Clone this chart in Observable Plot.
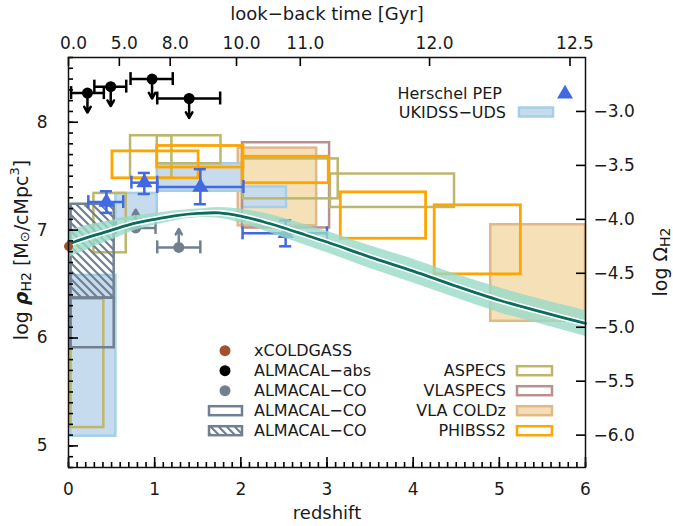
<!DOCTYPE html>
<html><head><meta charset="utf-8">
<script src="https://cdn.jsdelivr.net/npm/d3@7"></script>
<script src="https://cdn.jsdelivr.net/npm/@observablehq/plot@0.6"></script>
<style>body{margin:0;background:#fff}</style>
</head><body><div id="chart"></div>
<script>
// ---------------- data ----------------
const OFFSET = 11.1; // log rho_crit : log Omega = log rho - OFFSET

const xMajor = [0, 1, 2, 3, 4, 5, 6];
const yMajor = [5, 6, 7, 8];
const omegaTicks = [-3.0, -3.5, -4.0, -4.5, -5.0, -5.5, -6.0];
const lbLabels = ["0.0", "5.0", "8.0", "10.0", "11.0", "12.0", "12.5"];
const lbZ = [0.0, 0.59, 1.18, 1.95, 2.69, 4.19, 5.82];

const xcoldgass = [{z: 0.0, y: 6.85, ylo: 6.80, yhi: 6.90}];
const almacalAbs = [
  {z: 0.22, zlo: 0.03, zhi: 0.41, y: 8.27},
  {z: 0.49, zlo: 0.30, zhi: 0.67, y: 8.33},
  {z: 0.97, zlo: 0.72, zhi: 1.21, y: 8.40},
  {z: 1.40, zlo: 1.03, zhi: 1.76, y: 8.22}
];
const almacalCOpts = [
  {z: 0.78, zlo: 0.55, zhi: 1.01, y: 7.02},
  {z: 1.28, zlo: 1.03, zhi: 1.53, y: 6.84}
];
const herschel = [
  {z: 0.44, zlo: 0.23, zhi: 0.635, y: 7.26, ylo: 7.16, yhi: 7.36},
  {z: 0.88, zlo: 0.73, zhi: 1.03, y: 7.44, ylo: 7.335, yhi: 7.53},
  {z: 1.53, zlo: 1.03, zhi: 2.03, y: 7.40, ylo: 7.24, yhi: 7.565},
  {z: 2.52, zlo: 2.02, zhi: 3.00, y: 6.97, ylo: 6.85, yhi: 7.09}
];
const ukidss = [
  {z0: 0.03, z1: 0.55, y0: 5.09, y1: 6.58},
  {z0: 0.55, z1: 1.03, y0: 7.10, y1: 7.34},
  {z0: 1.03, z1: 2.03, y0: 7.36, y1: 7.615},
  {z0: 2.02, z1: 2.53, y0: 7.21, y1: 7.40}
];
const aspecs = [
  {z0: 0.03, z1: 0.41, y0: 5.17, y1: 6.36},
  {z0: 0.295, z1: 0.67, y0: 6.79, y1: 7.34},
  {z0: 0.72, z1: 1.20, y0: 7.48, y1: 7.875},
  {z0: 1.03, z1: 1.77, y0: 7.615, y1: 7.875},
  {z0: 2.03, z1: 3.13, y0: 7.29, y1: 7.66},
  {z0: 3.04, z1: 4.48, y0: 7.21, y1: 7.52}
];
const vlaspecs = [{z0: 2.02, z1: 3.03, y0: 7.02, y1: 7.81}];
const coldz = [
  {z0: 1.97, z1: 2.88, y0: 7.04, y1: 7.76},
  {z0: 4.90, z1: 6.00, y0: 6.155, y1: 7.05}
];
const phibss2 = [
  {z0: 0.51, z1: 1.51, y0: 7.48, y1: 7.73},
  {z0: 1.03, z1: 2.03, y0: 7.58, y1: 7.78},
  {z0: 2.02, z1: 3.02, y0: 7.435, y1: 7.68},
  {z0: 3.16, z1: 4.15, y0: 6.92, y1: 7.35},
  {z0: 4.25, z1: 5.25, y0: 6.59, y1: 7.23}
];
const almacalBoxOpen = [{z0: 0.03, z1: 0.53, y0: 5.91, y1: 6.37}];
const almacalBoxHatch = [{z0: 0.03, z1: 0.53, y0: 6.37, y1: 7.24}];

const modelZ   = [0, 0.1, 0.25, 0.5, 0.75, 1.0, 1.25, 1.5, 1.75, 2.0, 2.25, 2.5, 2.75, 3.0, 3.5, 4.0, 4.5, 5.0, 5.5, 6.0];
const modelY   = [6.87, 6.90, 6.94, 7.00, 7.06, 7.10, 7.135, 7.155, 7.16, 7.13, 7.08, 7.02, 6.955, 6.89, 6.75, 6.62, 6.48, 6.35, 6.24, 6.135];
const modelErr = [0.125, 0.12, 0.11, 0.09, 0.07, 0.055, 0.045, 0.04, 0.05, 0.065, 0.08, 0.09, 0.095, 0.10, 0.105, 0.11, 0.11, 0.115, 0.115, 0.12];
const model = modelZ.map((z, i) => ({z, y: modelY[i], e: modelErr[i]}));

// ---------------- chart ----------------
const W = 673, H = 526, mL = 68, mR = 88, mT = 57, mB = 59;
const pW = W - mL - mR, pH = H - mT - mB;
const X0 = 0, X1 = 6, Y0 = 4.8, Y1 = 8.6;
const xMinor = d3.range(0, 6.0001, 0.1).map(v => +v.toFixed(1));
const yMinor = d3.range(4.8, 8.6001, 0.1).map(v => +v.toFixed(1));
const omegaRho = omegaTicks.map(o => +(o + OFFSET).toFixed(2));

const C = {
  aspecs: "#bdb76b", vlaspecs: "#bc8f8f", coldzFill: "#f5deb3", coldzStroke: "#dfb98a",
  phibss: "#ffa500", ukFill: "#c6dbee", ukStroke: "#a6cfe5", grey: "#708090",
  blue: "#4169e1", brown: "#a0522d", band: "#98dac7", teal: "#0b6b5c", ink: "#1a1a1a"
};

const box = (data, opts) => Plot.rect(data, {x1: "z0", x2: "z1", y1: "y0", y2: "y1", ...opts});
const tk = {stroke: "black", strokeWidth: 1.6};

const svg = Plot.plot({
  width: W, height: H,
  marginLeft: mL, marginRight: mR, marginTop: mT, marginBottom: mB,
  x: {domain: [X0, X1], axis: null},
  y: {domain: [Y0, Y1], axis: null},
  style: {fontFamily: "DejaVu Sans", fontSize: "17px", color: C.ink, background: "white", overflow: "visible"},
  marks: [
    // boxes
    box(coldz, {fill: C.coldzFill, fillOpacity: 0.95, stroke: C.coldzStroke, strokeWidth: 2.5}),
    box(ukidss, {fill: C.ukFill, stroke: C.ukStroke, strokeWidth: 2.5}),
    box(vlaspecs, {fill: "none", stroke: C.vlaspecs, strokeWidth: 2.5}),
    box(aspecs, {fill: "none", stroke: C.aspecs, strokeWidth: 2.5}),
    box(phibss2, {fill: "none", stroke: C.phibss, strokeWidth: 2.8}),
    box(almacalBoxHatch, {fill: "url(#hatch)", stroke: C.grey, strokeWidth: 2.5}),
    box(almacalBoxOpen, {fill: "none", stroke: C.grey, strokeWidth: 2.5}),

    // ALMACAL-abs (upper limits)
    Plot.ruleY(almacalAbs, {y: "y", x1: "zlo", x2: "zhi", stroke: "black", strokeWidth: 2.5}),
    Plot.ruleX(almacalAbs, {x: "zlo", y1: d => d.y - 0.06, y2: d => d.y + 0.06, stroke: "black", strokeWidth: 2.5}),
    Plot.ruleX(almacalAbs, {x: "zhi", y1: d => d.y - 0.06, y2: d => d.y + 0.06, stroke: "black", strokeWidth: 2.5}),
    Plot.arrow(almacalAbs, {x1: "z", x2: "z", y1: "y", y2: d => d.y - 0.18, stroke: "black", strokeWidth: 2.5, headLength: 9}),
    Plot.dot(almacalAbs, {x: "z", y: "y", r: 5.5, fill: "black"}),

    // ALMACAL-CO points (lower limits)
    Plot.ruleY(almacalCOpts, {y: "y", x1: "zlo", x2: "zhi", stroke: C.grey, strokeWidth: 2.5}),
    Plot.ruleX(almacalCOpts, {x: "zlo", y1: d => d.y - 0.06, y2: d => d.y + 0.06, stroke: C.grey, strokeWidth: 2.5}),
    Plot.ruleX(almacalCOpts, {x: "zhi", y1: d => d.y - 0.06, y2: d => d.y + 0.06, stroke: C.grey, strokeWidth: 2.5}),
    Plot.arrow(almacalCOpts, {x1: "z", x2: "z", y1: "y", y2: d => d.y + 0.17, stroke: C.grey, strokeWidth: 2.5, headLength: 9}),
    Plot.dot(almacalCOpts, {x: "z", y: "y", r: 5.5, fill: C.grey}),

    // Herschel PEP
    Plot.ruleY(herschel, {y: "y", x1: "zlo", x2: "zhi", stroke: C.blue, strokeWidth: 2.5}),
    Plot.ruleX(herschel, {x: "zlo", y1: d => d.y - 0.06, y2: d => d.y + 0.06, stroke: C.blue, strokeWidth: 2.5}),
    Plot.ruleX(herschel, {x: "zhi", y1: d => d.y - 0.06, y2: d => d.y + 0.06, stroke: C.blue, strokeWidth: 2.5}),
    Plot.ruleX(herschel, {x: "z", y1: "ylo", y2: "yhi", stroke: C.blue, strokeWidth: 2.5}),
    Plot.ruleY(herschel, {y: "ylo", x1: d => d.z - 0.07, x2: d => d.z + 0.07, stroke: C.blue, strokeWidth: 2.5}),
    Plot.ruleY(herschel, {y: "yhi", x1: d => d.z - 0.07, x2: d => d.z + 0.07, stroke: C.blue, strokeWidth: 2.5}),
    Plot.dot(herschel, {x: "z", y: "y", symbol: "triangle", r: 6, fill: C.blue}),

    // model
    Plot.areaY(model, {x: "z", y1: d => d.y - d.e, y2: d => d.y + d.e, fill: C.band, fillOpacity: 0.8, curve: "catmull-rom"}),
    Plot.line(model, {x: "z", y: "y", stroke: "white", strokeWidth: 6, curve: "catmull-rom"}),
    Plot.line(model, {x: "z", y: "y", stroke: C.teal, strokeWidth: 2.8, curve: "catmull-rom"}),

    // xCOLDGASS
    Plot.ruleX(xcoldgass, {x: "z", y1: "ylo", y2: "yhi", stroke: C.brown, strokeWidth: 2.5}),
    Plot.dot(xcoldgass, {x: "z", y: "y", r: 4.5, fill: C.brown}),

    // inward ticks
    Plot.tickX(xMinor, {x: d => d, insetTop: pH - 5, ...tk}),
    Plot.tickX(xMajor, {x: d => d, insetTop: pH - 10, ...tk}),
    Plot.tickX(lbZ, {x: d => d, insetBottom: pH - 9, ...tk}),
    Plot.tickY(yMinor, {y: d => d, insetRight: pW - 5, ...tk}),
    Plot.tickY(yMajor, {y: d => d, insetRight: pW - 10, ...tk}),
    Plot.tickY(omegaRho, {y: d => d, insetLeft: pW - 9, ...tk}),

    // tick labels
    Plot.axisX(xMajor, {anchor: "bottom", tickSize: 0, tickPadding: 15, label: null, tickFormat: d => String(d)}),
    Plot.axisX(lbZ, {anchor: "top", tickSize: 0, tickPadding: 9, label: null, tickFormat: d => lbLabels[lbZ.indexOf(d)], dx: 5}),
    Plot.axisY(yMajor, {anchor: "left", tickSize: 0, tickPadding: 21, label: null, tickFormat: d => String(d)}),
    Plot.axisY(omegaRho, {anchor: "right", tickSize: 0, tickPadding: 8, label: null,
      tickFormat: d => (d - OFFSET).toFixed(1).replace("-", "\u2212")}),

    Plot.frame({stroke: "#111", strokeWidth: 1.5})
  ]
});

document.getElementById("chart").append(svg);
const s = d3.select(svg);

// hatch pattern
const defs = s.insert("defs", ":first-child");
const pat = defs.append("pattern").attr("id", "hatch").attr("patternUnits", "userSpaceOnUse")
  .attr("width", 8).attr("height", 8);
pat.append("path").attr("d", "M-2,-2 L10,10 M-2,6 L2,10 M6,-2 L10,2")
  .attr("stroke", C.grey).attr("stroke-width", 2.2);

const font = "DejaVu Sans";
const txt = (x, y, str, anchor = "start", size = 16) =>
  s.append("text").attr("x", x).attr("y", y).attr("text-anchor", anchor)
   .attr("dominant-baseline", "central").attr("font-family", font).attr("font-size", size)
   .attr("fill", C.ink).text(str);

// axis titles
txt(327, 512, "redshift", "middle", 18);
txt(327, 13, "look\u2212back time [Gyr]", "middle", 18);

const lt = s.append("text").attr("transform", "translate(21,250) rotate(-90)")
  .attr("text-anchor", "middle").attr("dominant-baseline", "central")
  .attr("font-family", font).attr("font-size", 19).attr("fill", C.ink);
lt.append("tspan").text("log ");
lt.append("tspan").attr("font-style", "italic").attr("font-weight", "bold").text("\u03C1");
lt.append("tspan").attr("font-size", 14).attr("dy", 5).text("H2");
lt.append("tspan").attr("dy", -5).text(" [M");
lt.append("tspan").attr("font-size", 13).attr("dy", 3).text("\u2299");
lt.append("tspan").attr("dy", -3).text("/cMpc");
lt.append("tspan").attr("font-size", 13).attr("dy", -7).text("3");
lt.append("tspan").attr("dy", 7).text("]");

const rt = s.append("text").attr("transform", "translate(660,262) rotate(-90)")
  .attr("text-anchor", "middle").attr("dominant-baseline", "central")
  .attr("font-family", font).attr("font-size", 19).attr("fill", C.ink);
rt.append("tspan").text("log \u03A9");
rt.append("tspan").attr("font-size", 14).attr("dy", 5).text("H2");

// top-right legend
txt(502, 93, "Herschel PEP", "end");
s.append("path").attr("d", d3.symbol(d3.symbolTriangle, 110)()).attr("transform", "translate(565,94)").attr("fill", C.blue);
txt(506, 112, "UKIDSS\u2212UDS", "end");
s.append("rect").attr("x", 519).attr("y", 107.5).attr("width", 34).attr("height", 9)
  .attr("fill", C.ukFill).attr("stroke", C.ukStroke).attr("stroke-width", 2.5);

// bottom-left legend
const rows = [350.7, 370.7, 390.7, 410.7, 430.7];
s.append("circle").attr("cx", 225).attr("cy", rows[0]).attr("r", 5.5).attr("fill", C.brown);
s.append("circle").attr("cx", 225).attr("cy", rows[1]).attr("r", 5.5).attr("fill", "black");
s.append("circle").attr("cx", 225).attr("cy", rows[2]).attr("r", 5.5).attr("fill", C.grey);
s.append("rect").attr("x", 209).attr("y", rows[3] - 4.5).attr("width", 33).attr("height", 9)
  .attr("fill", "none").attr("stroke", C.grey).attr("stroke-width", 2.5);
s.append("rect").attr("x", 209).attr("y", rows[4] - 4.5).attr("width", 33).attr("height", 9)
  .attr("fill", "url(#hatch)").attr("stroke", C.grey).attr("stroke-width", 2.5);
["xCOLDGASS", "ALMACAL\u2212abs", "ALMACAL\u2212CO", "ALMACAL\u2212CO", "ALMACAL\u2212CO"]
  .forEach((t, i) => txt(254, rows[i], t));

// bottom-right legend
const rl = [
  ["ASPECS", "none", C.aspecs],
  ["VLASPECS", "none", C.vlaspecs],
  ["VLA COLDz", C.coldzFill, C.coldzStroke],
  ["PHIBSS2", "none", C.phibss]
];
rl.forEach(([t, f, st], i) => {
  txt(506, rows[i + 1], t, "end");
  s.append("rect").attr("x", 517).attr("y", rows[i + 1] - 4.5).attr("width", 35).attr("height", 9)
    .attr("fill", f).attr("stroke", st).attr("stroke-width", 2.5);
});
</script>
</body></html>
